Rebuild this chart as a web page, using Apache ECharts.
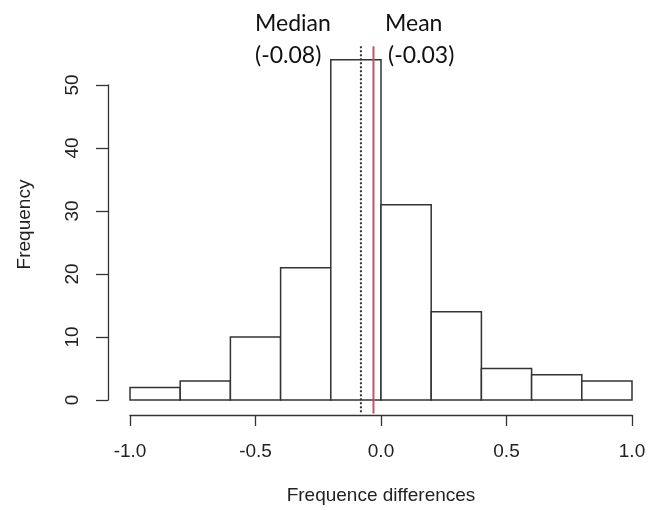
<!DOCTYPE html>
<html>
<head>
<meta charset="utf-8">
<script src="https://cdn.jsdelivr.net/npm/echarts@6/dist/echarts.min.js"></script>
<style>
html,body{margin:0;padding:0;background:#fff;}
#chart{width:662px;height:510px;}
</style>
</head>
<body>
<div id="chart"></div>
<script>
// Histogram bins (edges) and counts
const binStarts = [-1.0, -0.8, -0.6, -0.4, -0.2, 0.0, 0.2, 0.4, 0.6, 0.8];
const binEnds   = [-0.8, -0.6, -0.4, -0.2, 0.0, 0.2, 0.4, 0.6, 0.8, 1.0];
const counts    = [2, 3, 10, 21, 54, 31, 14, 5, 4, 3];
// Reference lines
const statNames  = ['Median', 'Mean'];
const statValues = [-0.08, -0.03];
const statLabels = ['(-0.08)', '(-0.03)'];
// Axis ticks
const xTickValues = [-1.0, -0.5, 0.0, 0.5, 1.0];
const yTickValues = [0, 10, 20, 30, 40, 50];

const maxCount = Math.max.apply(null, counts);
const yLow = -0.04 * maxCount, yHigh = 1.04 * maxCount;

const chart = echarts.init(document.getElementById('chart'), null, {renderer: 'canvas'});
const fontFam = '"Liberation Sans", Arial, sans-serif';
const annFam = 'Lato, "Open Sans", sans-serif';
const ink = '#333';

const histData = binStarts.map((s, i) => [s, binEnds[i], counts[i]]);
const statData = statValues.map((v, i) => [v, i]);

chart.setOption({
  animation: false,
  backgroundColor: '#fff',
  grid: {left: 130, right: 30, top: 85, bottom: 109.5, containLabel: false},
  xAxis: {
    type: 'value', min: xTickValues[0], max: xTickValues[xTickValues.length - 1], interval: 0.5,
    offset: 15,
    axisLine: {show: true, onZero: false, lineStyle: {color: ink, width: 1.3}},
    axisTick: {show: true, length: 11, lineStyle: {color: ink, width: 1.3}},
    axisLabel: {margin: 27, color: '#222', fontSize: 19, fontFamily: fontFam,
      formatter: v => v.toFixed(1)},
    splitLine: {show: false},
    name: 'Frequence differences', nameLocation: 'middle', nameGap: 71,
    nameTextStyle: {color: '#222', fontSize: 19, fontFamily: fontFam}
  },
  yAxis: {
    type: 'value', min: yTickValues[0], max: yTickValues[yTickValues.length - 1], interval: 10,
    offset: 22,
    axisLine: {show: true, onZero: false, lineStyle: {color: ink, width: 1.3}},
    axisTick: {show: true, length: 12, lineStyle: {color: ink, width: 1.3}},
    axisLabel: {rotate: 90, margin: 26, color: '#222', fontSize: 19, fontFamily: fontFam},
    splitLine: {show: false},
    name: 'Frequency', nameLocation: 'middle', nameGap: 74, nameRotate: 90,
    nameTextStyle: {color: '#222', fontSize: 19, fontFamily: fontFam, padding: [0, 0, 0, 36]}
  },
  series: [
    {
      type: 'custom', clip: false,
      data: histData,
      renderItem: function (params, api) {
        const p0 = api.coord([api.value(0), api.value(2)]);
        const p1 = api.coord([api.value(1), 0]);
        return {
          type: 'rect',
          shape: {x: p0[0], y: p0[1], width: p1[0] - p0[0], height: p1[1] - p0[1]},
          style: {fill: '#fff', stroke: ink, lineWidth: 1.5}
        };
      }
    },
    {
      type: 'custom', clip: false,
      data: statData,
      renderItem: function (params, api) {
        const v = api.value(0), k = api.value(1);
        const a = api.coord([v, yHigh]);
        const b = api.coord([v, yLow]);
        return {
          type: 'line',
          shape: {x1: a[0], y1: a[1], x2: b[0], y2: b[1]},
          style: k === 0
            ? {stroke: '#333', lineWidth: 2, lineDash: [2, 2]}
            : {stroke: '#c8506e', lineWidth: 2}
        };
      }
    }
  ],
  graphic: [
    {type: 'text', left: 255, top: 12, style: {text: statNames[0], fontSize: 23, fontFamily: annFam, fill: '#111'}},
    {type: 'text', left: 255, top: 44, style: {text: statLabels[0], fontSize: 23, fontFamily: annFam, fill: '#111'}},
    {type: 'text', left: 385, top: 12, style: {text: statNames[1], fontSize: 23, fontFamily: annFam, fill: '#111'}},
    {type: 'text', left: 388, top: 44, style: {text: statLabels[1], fontSize: 23, fontFamily: annFam, fill: '#111'}}
  ]
});
</script>
</body>
</html>
